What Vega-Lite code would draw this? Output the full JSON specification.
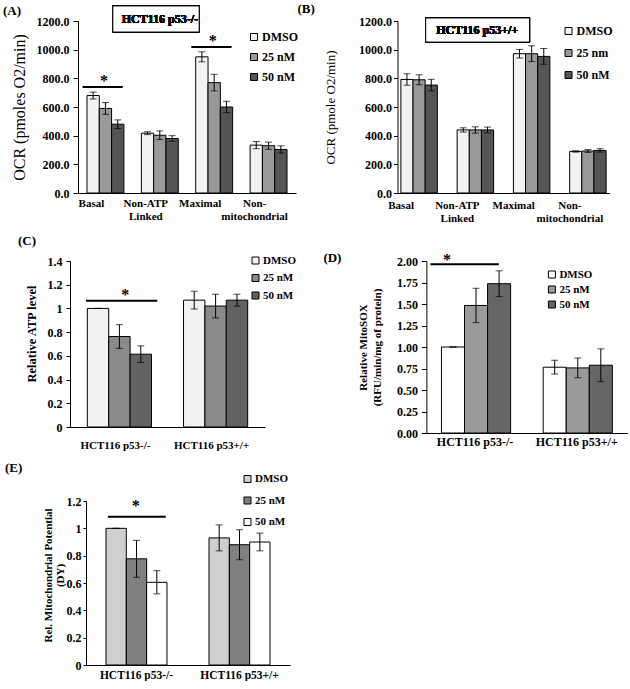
{
  "$schema": "https://vega.github.io/schema/vega-lite/v6.json",
  "padding": {"left": 0, "top": 2, "right": 0, "bottom": 0},
  "spacing": 12,
  "resolve": {"scale": {"x": "independent", "y": "independent", "xOffset": "independent", "fill": "independent"}, "axis": {"x": "independent", "y": "independent"}, "legend": {"fill": "independent"}},
  "vconcat": [
    {
      "spacing": 0, "bounds": "flush",
      "resolve": {"scale": {"x": "independent", "y": "independent", "xOffset": "independent", "fill": "independent"}, "axis": {"x": "independent", "y": "independent"}, "legend": {"fill": "independent"}},
      "hconcat": [
        {"width": 78, "height": 1, "data": {"values": []}, "mark": {"type": "point", "opacity": 0}, "encoding": {}},
        {
          "spacing": 101.5, "bounds": "flush",
          "resolve": {"scale": {"x": "independent", "y": "independent", "xOffset": "independent", "fill": "independent"}, "axis": {"x": "independent", "y": "independent"}, "legend": {"fill": "independent"}},
          "hconcat": [
            {
              "width": 218, "height": 172,
              "title": {"text": "(A)", "frame": "group", "anchor": "start", "dx": -75, "offset": -12.5},
              "data": {"values": [
                {"group": "Basal", "treatment": "DMSO", "value": 680, "err": 24},
                {"group": "Basal", "treatment": "25 nM", "value": 590, "err": 41},
                {"group": "Basal", "treatment": "50 nM", "value": 480, "err": 30},
                {"group": "Non-ATP Linked", "treatment": "DMSO", "value": 417, "err": 10},
                {"group": "Non-ATP Linked", "treatment": "25 nM", "value": 403, "err": 30},
                {"group": "Non-ATP Linked", "treatment": "50 nM", "value": 380, "err": 20},
                {"group": "Maximal", "treatment": "DMSO", "value": 950, "err": 35},
                {"group": "Maximal", "treatment": "25 nM", "value": 770, "err": 58},
                {"group": "Maximal", "treatment": "50 nM", "value": 600, "err": 40},
                {"group": "Non-mitochondrial", "treatment": "DMSO", "value": 334, "err": 25},
                {"group": "Non-mitochondrial", "treatment": "25 nM", "value": 330, "err": 25},
                {"group": "Non-mitochondrial", "treatment": "50 nM", "value": 304, "err": 25}
              ]},
              "encoding": {
                "x": {"field": "group", "type": "nominal", "title": null,
                  "scale": {"domain": ["Basal", "Non-ATP Linked", "Maximal", "Non-mitochondrial"], "paddingInner": 0.321, "paddingOuter": 0.165},
                  "axis": {"labelExpr": "datum.label == 'Non-ATP Linked' ? ['Non-ATP', 'Linked'] : datum.label == 'Non-mitochondrial' ? ['Non-', 'mitochondrial'] : datum.label", "labelOffset": -14, "labelPadding": 4, "labelLineHeight": 13, "labelFontSize": 11}},
                "y": {"field": "value", "type": "quantitative", "title": "OCR (pmoles O2/min)",
                  "scale": {"domain": [0, 1200], "nice": false},
                  "axis": {"values": [0, 200, 400, 600, 800, 1000, 1200], "format": ".1f", "labelOverlap": false, "titleFontSize": 16, "titleFontWeight": "normal", "titleX": -59, "titleBaseline": "middle", "labelPadding": 4}}
              },
              "layer": [
                {
                  "mark": {"type": "bar", "stroke": "black", "strokeWidth": 1},
                  "encoding": {
                    "xOffset": {"field": "treatment", "type": "nominal", "scale": {"domain": ["DMSO", "25 nM", "50 nM"], "paddingInner": 0, "paddingOuter": 0}},
                    "fill": {"field": "treatment", "type": "nominal",
                      "scale": {"domain": ["DMSO", "25 nM", "50 nM"], "range": ["#f2f2f2", "#999999", "#555555"]},
                      "legend": {"title": null, "orient": "none", "legendX": 170, "legendY": 10, "rowPadding": 8, "labelFontSize": 12}}
                  }
                },
                {
                  "mark": {"type": "errorbar", "color": "black", "thickness": 1, "ticks": {"size": 7}},
                  "encoding": {
                    "xOffset": {"field": "treatment", "type": "nominal"},
                    "yError": {"field": "err"}
                  }
                },
                {
                  "data": {"values": [{"group": "Basal", "value": 740}, {"group": "Maximal", "value": 1019}]},
                  "layer": [
                    {"mark": {"type": "rule", "strokeWidth": 2, "color": "black"},
                     "encoding": {
                       "x": {"field": "group", "type": "nominal", "bandPosition": -0.12, "title": null,
                         "scale": {"domain": ["Basal", "Non-ATP Linked", "Maximal", "Non-mitochondrial"], "paddingInner": 0.321, "paddingOuter": 0.165},
                         "axis": {"labelExpr": "datum.label == 'Non-ATP Linked' ? ['Non-ATP', 'Linked'] : datum.label == 'Non-mitochondrial' ? ['Non-', 'mitochondrial'] : datum.label", "labelOffset": -14, "labelPadding": 4, "labelLineHeight": 13, "labelFontSize": 11}},
                       "x2": {"field": "group", "bandPosition": 0.97}}},
                    {"mark": {"type": "text", "text": "*", "fontSize": 16, "fontWeight": "bold", "fill": "black", "baseline": "alphabetic", "dy": -1},
                     "encoding": {
                       "x": {"field": "group", "type": "nominal", "bandPosition": 0.46, "title": null,
                         "scale": {"domain": ["Basal", "Non-ATP Linked", "Maximal", "Non-mitochondrial"], "paddingInner": 0.321, "paddingOuter": 0.165},
                         "axis": {"labelExpr": "datum.label == 'Non-ATP Linked' ? ['Non-ATP', 'Linked'] : datum.label == 'Non-mitochondrial' ? ['Non-', 'mitochondrial'] : datum.label", "labelOffset": -14, "labelPadding": 4, "labelLineHeight": 13, "labelFontSize": 11}}}}
                  ]
                },
                {
                  "mark": {"type": "rect", "fill": "white", "stroke": "black", "strokeWidth": 1, "x2Offset": -15},
                  "encoding": {
                    "x": {"datum": "Basal", "type": "nominal", "bandPosition": 0.7, "title": null,
                      "scale": {"domain": ["Basal", "Non-ATP Linked", "Maximal", "Non-mitochondrial"], "paddingInner": 0.321, "paddingOuter": 0.165},
                      "axis": {"labelExpr": "datum.label == 'Non-ATP Linked' ? ['Non-ATP', 'Linked'] : datum.label == 'Non-mitochondrial' ? ['Non-', 'mitochondrial'] : datum.label", "labelOffset": -14, "labelPadding": 4, "labelLineHeight": 13, "labelFontSize": 11}},
                    "x2": {"datum": "Maximal", "bandPosition": 0.5},
                    "y": {"datum": 1305, "type": "quantitative", "title": "OCR (pmoles O2/min)",
                      "scale": {"domain": [0, 1200], "nice": false},
                      "axis": {"values": [0, 200, 400, 600, 800, 1000, 1200], "format": ".1f", "labelOverlap": false, "titleFontSize": 16, "titleFontWeight": "normal", "titleX": -59, "titleBaseline": "middle", "labelPadding": 4}},
                    "y2": {"datum": 1123}
                  }
                },
                {
                  "mark": {"type": "text", "text": "HCT116 p53-/-", "fontSize": 12, "fontWeight": "bold", "fill": "black"},
                  "encoding": {
                    "x": {"datum": "Non-ATP Linked", "type": "nominal", "bandPosition": 0.5, "title": null,
                      "scale": {"domain": ["Basal", "Non-ATP Linked", "Maximal", "Non-mitochondrial"], "paddingInner": 0.321, "paddingOuter": 0.165},
                      "axis": {"labelExpr": "datum.label == 'Non-ATP Linked' ? ['Non-ATP', 'Linked'] : datum.label == 'Non-mitochondrial' ? ['Non-', 'mitochondrial'] : datum.label", "labelOffset": -14, "labelPadding": 4, "labelLineHeight": 13, "labelFontSize": 11}},
                    "y": {"datum": 1214, "type": "quantitative", "title": "OCR (pmoles O2/min)",
                      "scale": {"domain": [0, 1200], "nice": false},
                      "axis": {"values": [0, 200, 400, 600, 800, 1000, 1200], "format": ".1f", "labelOverlap": false, "titleFontSize": 16, "titleFontWeight": "normal", "titleX": -59, "titleBaseline": "middle", "labelPadding": 4}}
                  }
                }
              ]
            },
            {
              "width": 212, "height": 172,
              "title": {"text": "(B)", "frame": "group", "anchor": "start", "dx": -100, "offset": -0.5},
              "data": {"values": [
                {"group": "Basal", "treatment": "DMSO", "value": 792, "err": 40},
                {"group": "Basal", "treatment": "25 nM", "value": 790, "err": 35},
                {"group": "Basal", "treatment": "50 nM", "value": 753, "err": 40},
                {"group": "Non-ATP Linked", "treatment": "DMSO", "value": 440, "err": 15},
                {"group": "Non-ATP Linked", "treatment": "25 nM", "value": 440, "err": 22},
                {"group": "Non-ATP Linked", "treatment": "50 nM", "value": 440, "err": 20},
                {"group": "Maximal", "treatment": "DMSO", "value": 972, "err": 30},
                {"group": "Maximal", "treatment": "25 nM", "value": 972, "err": 55},
                {"group": "Maximal", "treatment": "50 nM", "value": 953, "err": 55},
                {"group": "Non-mitochondrial", "treatment": "DMSO", "value": 290, "err": 5},
                {"group": "Non-mitochondrial", "treatment": "25 nM", "value": 293, "err": 10},
                {"group": "Non-mitochondrial", "treatment": "50 nM", "value": 297, "err": 12}
              ]},
              "encoding": {
                "x": {"field": "group", "type": "nominal", "title": null,
                  "scale": {"domain": ["Basal", "Non-ATP Linked", "Maximal", "Non-mitochondrial"], "paddingInner": 0.352, "paddingOuter": 0.06},
                  "axis": {"labelExpr": "datum.label == 'Non-ATP Linked' ? ['Non-ATP', 'Linked'] : datum.label == 'Non-mitochondrial' ? ['Non-', 'mitochondrial'] : datum.label", "labelOffset": -18, "labelPadding": 6, "labelLineHeight": 13, "labelFontSize": 11}},
                "y": {"field": "value", "type": "quantitative", "title": "OCR (pmole O2/min)",
                  "scale": {"domain": [0, 1200], "nice": false},
                  "axis": {"values": [0, 200, 400, 600, 800, 1000, 1200], "format": ".1f", "labelOverlap": false, "titleFontSize": 13, "titleFontWeight": "normal", "titleX": -67, "titleBaseline": "middle", "tickSize": 4, "labelPadding": 2}}
              },
              "layer": [
                {
                  "mark": {"type": "bar", "stroke": "black", "strokeWidth": 1},
                  "encoding": {
                    "xOffset": {"field": "treatment", "type": "nominal", "scale": {"domain": ["DMSO", "25 nM", "50 nM"], "paddingInner": 0, "paddingOuter": 0}},
                    "fill": {"field": "treatment", "type": "nominal",
                      "scale": {"domain": ["DMSO", "25 nM", "50 nM"], "range": ["#f2f2f2", "#999999", "#555555"]},
                      "legend": {"title": null, "orient": "none", "legendX": 165, "legendY": 4, "rowPadding": 10, "labelFontSize": 12, "labelExpr": "datum.label == '25 nM' ? '25 nm' : datum.label"}}
                  }
                },
                {
                  "mark": {"type": "errorbar", "color": "black", "thickness": 1, "ticks": {"size": 7}},
                  "encoding": {
                    "xOffset": {"field": "treatment", "type": "nominal"},
                    "yError": {"field": "err"}
                  }
                },
                {
                  "mark": {"type": "rect", "fill": "white", "stroke": "black", "strokeWidth": 1, "x2Offset": -5},
                  "encoding": {
                    "x": {"datum": "Basal", "type": "nominal", "bandPosition": 0.68, "title": null,
                      "scale": {"domain": ["Basal", "Non-ATP Linked", "Maximal", "Non-mitochondrial"], "paddingInner": 0.352, "paddingOuter": 0.06},
                      "axis": {"labelExpr": "datum.label == 'Non-ATP Linked' ? ['Non-ATP', 'Linked'] : datum.label == 'Non-mitochondrial' ? ['Non-', 'mitochondrial'] : datum.label", "labelOffset": -18, "labelPadding": 6, "labelLineHeight": 13, "labelFontSize": 11}},
                    "x2": {"datum": "Maximal", "bandPosition": 0.58},
                    "y": {"datum": 1221, "type": "quantitative", "title": "OCR (pmole O2/min)",
                      "scale": {"domain": [0, 1200], "nice": false},
                      "axis": {"values": [0, 200, 400, 600, 800, 1000, 1200], "format": ".1f", "labelOverlap": false, "titleFontSize": 13, "titleFontWeight": "normal", "titleX": -67, "titleBaseline": "middle", "tickSize": 4, "labelPadding": 2}},
                    "y2": {"datum": 1053}
                  }
                },
                {
                  "mark": {"type": "text", "text": "HCT116 p53+/+", "fontSize": 12, "fontWeight": "bold", "fill": "black"},
                  "encoding": {
                    "x": {"datum": "Non-ATP Linked", "type": "nominal", "bandPosition": 0.55, "title": null,
                      "scale": {"domain": ["Basal", "Non-ATP Linked", "Maximal", "Non-mitochondrial"], "paddingInner": 0.352, "paddingOuter": 0.06},
                      "axis": {"labelExpr": "datum.label == 'Non-ATP Linked' ? ['Non-ATP', 'Linked'] : datum.label == 'Non-mitochondrial' ? ['Non-', 'mitochondrial'] : datum.label", "labelOffset": -18, "labelPadding": 6, "labelLineHeight": 13, "labelFontSize": 11}},
                    "y": {"datum": 1137, "type": "quantitative", "title": "OCR (pmole O2/min)",
                      "scale": {"domain": [0, 1200], "nice": false},
                      "axis": {"values": [0, 200, 400, 600, 800, 1000, 1200], "format": ".1f", "labelOverlap": false, "titleFontSize": 13, "titleFontWeight": "normal", "titleX": -67, "titleBaseline": "middle", "tickSize": 4, "labelPadding": 2}}
                  }
                }
              ]
            }
          ]
        }
      ]
    },
    {
      "spacing": 0, "bounds": "flush",
      "resolve": {"scale": {"x": "independent", "y": "independent", "xOffset": "independent", "fill": "independent"}, "axis": {"x": "independent", "y": "independent"}, "legend": {"fill": "independent"}},
      "hconcat": [
        {"width": 70, "height": 1, "data": {"values": []}, "mark": {"type": "point", "opacity": 0}, "encoding": {}},
        {
          "spacing": 161.4, "bounds": "flush",
          "resolve": {"scale": {"x": "independent", "y": "independent", "xOffset": "independent", "fill": "independent"}, "axis": {"x": "independent", "y": "independent"}, "legend": {"fill": "independent"}},
          "hconcat": [
            {
              "width": 195, "height": 166,
              "title": {"text": "(C)", "frame": "group", "anchor": "start", "dx": -52, "offset": 7},
              "data": {"values": [
                {"group": "HCT116 p53-/-", "treatment": "DMSO", "value": 1.0, "err": 0},
                {"group": "HCT116 p53-/-", "treatment": "25 nM", "value": 0.763, "err": 0.1},
                {"group": "HCT116 p53-/-", "treatment": "50 nM", "value": 0.614, "err": 0.07},
                {"group": "HCT116 p53+/+", "treatment": "DMSO", "value": 1.07, "err": 0.075},
                {"group": "HCT116 p53+/+", "treatment": "25 nM", "value": 1.02, "err": 0.1},
                {"group": "HCT116 p53+/+", "treatment": "50 nM", "value": 1.07, "err": 0.05}
              ]},
              "encoding": {
                "x": {"field": "group", "type": "nominal", "title": null,
                  "scale": {"domain": ["HCT116 p53-/-", "HCT116 p53+/+"], "paddingInner": 0.333, "paddingOuter": 0.18},
                  "axis": {"labelOffset": -4, "labelPadding": 12, "labelFontSize": 11}},
                "y": {"field": "value", "type": "quantitative", "title": "Relative ATP level",
                  "scale": {"domain": [0, 1.4], "nice": false},
                  "axis": {"values": [0, 0.2, 0.4, 0.6, 0.8, 1, 1.2, 1.4], "format": ".1~f", "labelOverlap": false, "titleFontSize": 12.5, "titleFontWeight": "bold", "titleX": -39, "titleY": 72.5, "titleBaseline": "middle", "titlePadding": 19, "tickSize": 4, "labelPadding": 4}}
              },
              "layer": [
                {
                  "mark": {"type": "bar", "stroke": "black", "strokeWidth": 1},
                  "encoding": {
                    "xOffset": {"field": "treatment", "type": "nominal", "scale": {"domain": ["DMSO", "25 nM", "50 nM"], "paddingInner": 0, "paddingOuter": 0}},
                    "fill": {"field": "treatment", "type": "nominal",
                      "scale": {"domain": ["DMSO", "25 nM", "50 nM"], "range": ["#f2f2f2", "#8a8a8a", "#626262"]},
                      "legend": {"title": null, "orient": "none", "legendX": 180, "legendY": -6, "rowPadding": 5.5, "labelFontSize": 11}}
                  }
                },
                {
                  "mark": {"type": "errorbar", "color": "black", "thickness": 1, "ticks": {"size": 7}},
                  "encoding": {
                    "xOffset": {"field": "treatment", "type": "nominal"},
                    "yError": {"field": "err"}
                  }
                },
                {
                  "data": {"values": [{"group": "HCT116 p53-/-", "value": 1.064}]},
                  "layer": [
                    {"mark": {"type": "rule", "strokeWidth": 2, "color": "black"},
                     "encoding": {
                       "x": {"field": "group", "type": "nominal", "bandPosition": -0.02, "title": null,
                         "scale": {"domain": ["HCT116 p53-/-", "HCT116 p53+/+"], "paddingInner": 0.333, "paddingOuter": 0.18},
                         "axis": {"labelOffset": -4, "labelPadding": 12, "labelFontSize": 11}},
                       "x2": {"field": "group", "bandPosition": 1.09}}},
                    {"mark": {"type": "text", "text": "*", "fontSize": 16, "fontWeight": "bold", "fill": "black", "baseline": "alphabetic", "dy": -1},
                     "encoding": {
                       "x": {"field": "group", "type": "nominal", "bandPosition": 0.59, "title": null,
                         "scale": {"domain": ["HCT116 p53-/-", "HCT116 p53+/+"], "paddingInner": 0.333, "paddingOuter": 0.18},
                         "axis": {"labelOffset": -4, "labelPadding": 12, "labelFontSize": 11}}}}
                  ]
                }
              ]
            },
            {
              "width": 201, "height": 172,
              "title": {"text": "(D)", "frame": "group", "anchor": "start", "dx": -103, "offset": -12.5},
              "data": {"values": [
                {"group": "HCT116 p53-/-", "treatment": "DMSO", "value": 1.0, "err": 0},
                {"group": "HCT116 p53-/-", "treatment": "25 nM", "value": 1.483, "err": 0.2},
                {"group": "HCT116 p53-/-", "treatment": "50 nM", "value": 1.736, "err": 0.15},
                {"group": "HCT116 p53+/+", "treatment": "DMSO", "value": 0.765, "err": 0.08},
                {"group": "HCT116 p53+/+", "treatment": "25 nM", "value": 0.757, "err": 0.115},
                {"group": "HCT116 p53+/+", "treatment": "50 nM", "value": 0.788, "err": 0.19}
              ]},
              "encoding": {
                "x": {"field": "group", "type": "nominal", "title": null,
                  "scale": {"domain": ["HCT116 p53-/-", "HCT116 p53+/+"], "paddingInner": 0.32, "paddingOuter": 0.148},
                  "axis": {"labelOffset": -1, "labelPadding": 3, "labelFontSize": 12}},
                "y": {"field": "value", "type": "quantitative", "title": ["Relative MitoSOX", "(RFU/min/mg of protein)"],
                  "scale": {"domain": [0, 2], "nice": false},
                  "axis": {"values": [0, 0.25, 0.5, 0.75, 1, 1.25, 1.5, 1.75, 2], "format": ".2f", "labelOverlap": false, "titleFontSize": 11, "titleFontWeight": "bold", "titleX": -63, "titleBaseline": "middle", "titleLineHeight": 14, "titlePadding": 28, "labelPadding": 4}}
              },
              "layer": [
                {
                  "mark": {"type": "bar", "stroke": "black", "strokeWidth": 1},
                  "encoding": {
                    "xOffset": {"field": "treatment", "type": "nominal", "scale": {"domain": ["DMSO", "25 nM", "50 nM"], "paddingInner": 0, "paddingOuter": 0}},
                    "fill": {"field": "treatment", "type": "nominal",
                      "scale": {"domain": ["DMSO", "25 nM", "50 nM"], "range": ["#ffffff", "#9a9a9a", "#666666"]},
                      "legend": {"title": null, "orient": "none", "legendX": 120, "legendY": 8, "rowPadding": 3, "labelFontSize": 11}}
                  }
                },
                {
                  "mark": {"type": "errorbar", "color": "black", "thickness": 1, "ticks": {"size": 7}},
                  "encoding": {
                    "xOffset": {"field": "treatment", "type": "nominal"},
                    "yError": {"field": "err"}
                  }
                },
                {
                  "data": {"values": [{"group": "HCT116 p53-/-", "value": 1.963}]},
                  "layer": [
                    {"mark": {"type": "rule", "strokeWidth": 2, "color": "black"},
                     "encoding": {
                       "x": {"field": "group", "type": "nominal", "bandPosition": -0.16, "title": null,
                         "scale": {"domain": ["HCT116 p53-/-", "HCT116 p53+/+"], "paddingInner": 0.32, "paddingOuter": 0.148},
                         "axis": {"labelOffset": -1, "labelPadding": 3, "labelFontSize": 12}},
                       "x2": {"field": "group", "bandPosition": 0.83}}},
                    {"mark": {"type": "text", "text": "*", "fontSize": 16, "fontWeight": "bold", "fill": "black", "baseline": "alphabetic", "dy": 1},
                     "encoding": {
                       "x": {"field": "group", "type": "nominal", "bandPosition": 0.08, "title": null,
                         "scale": {"domain": ["HCT116 p53-/-", "HCT116 p53+/+"], "paddingInner": 0.32, "paddingOuter": 0.148},
                         "axis": {"labelOffset": -1, "labelPadding": 3, "labelFontSize": 12}}}}
                  ]
                }
              ]
            }
          ]
        }
      ]
    },
    {
      "spacing": 0, "bounds": "flush",
      "resolve": {"scale": {"x": "independent", "y": "independent", "xOffset": "independent", "fill": "independent"}, "axis": {"x": "independent", "y": "independent"}, "legend": {"fill": "independent"}},
      "hconcat": [
        {"width": 86, "height": 1, "data": {"values": []}, "mark": {"type": "point", "opacity": 0}, "encoding": {}},
        {
          "width": 204, "height": 164,
          "title": {"text": "(E)", "frame": "group", "anchor": "start", "dx": -81, "offset": -1.8},
          "data": {"values": [
            {"group": "HCT116 p53-/-", "treatment": "DMSO", "value": 1.0, "err": 0},
            {"group": "HCT116 p53-/-", "treatment": "25 nM", "value": 0.777, "err": 0.135},
            {"group": "HCT116 p53-/-", "treatment": "50 nM", "value": 0.605, "err": 0.085},
            {"group": "HCT116 p53+/+", "treatment": "DMSO", "value": 0.93, "err": 0.095},
            {"group": "HCT116 p53+/+", "treatment": "25 nM", "value": 0.88, "err": 0.11},
            {"group": "HCT116 p53+/+", "treatment": "50 nM", "value": 0.9, "err": 0.065}
          ]},
          "encoding": {
            "x": {"field": "group", "type": "nominal", "title": null,
              "scale": {"domain": ["HCT116 p53-/-", "HCT116 p53+/+"], "paddingInner": 0.408, "paddingOuter": 0.194},
              "axis": {"labelOffset": 0, "labelPadding": 4, "labelFontSize": 11.5}},
            "y": {"field": "value", "type": "quantitative", "title": ["Rel. Mitochondrial Potential", "(DY)"],
              "scale": {"domain": [0, 1.2], "nice": false},
              "axis": {"values": [0, 0.2, 0.4, 0.6, 0.8, 1, 1.2], "format": ".1~f", "labelOverlap": false, "titleFontSize": 11, "titleFontWeight": "bold", "titleX": -38, "titleY": 74, "titleBaseline": "middle", "titleLineHeight": 12, "titlePadding": 9, "tickSize": 3, "labelPadding": 2}}
          },
          "layer": [
            {
              "mark": {"type": "bar", "stroke": "black", "strokeWidth": 1},
              "encoding": {
                "xOffset": {"field": "treatment", "type": "nominal", "scale": {"domain": ["DMSO", "25 nM", "50 nM"], "paddingInner": 0, "paddingOuter": 0}},
                "fill": {"field": "treatment", "type": "nominal",
                  "scale": {"domain": ["DMSO", "25 nM", "50 nM"], "range": ["#cfcfcf", "#808080", "#ffffff"]},
                  "legend": {"title": null, "orient": "none", "legendX": 156, "legendY": -27.5, "rowPadding": 9.5, "labelFontSize": 11}}
              }
            },
            {
              "mark": {"type": "errorbar", "color": "black", "thickness": 1, "ticks": {"size": 7}},
              "encoding": {
                "xOffset": {"field": "treatment", "type": "nominal"},
                "yError": {"field": "err"}
              }
            },
            {
              "data": {"values": [{"group": "HCT116 p53-/-", "value": 1.085}]},
              "layer": [
                {"mark": {"type": "rule", "strokeWidth": 2, "color": "black"},
                 "encoding": {
                   "x": {"field": "group", "type": "nominal", "bandPosition": 0.03, "title": null,
                     "scale": {"domain": ["HCT116 p53-/-", "HCT116 p53+/+"], "paddingInner": 0.408, "paddingOuter": 0.194},
                     "axis": {"labelOffset": 0, "labelPadding": 4, "labelFontSize": 11.5}},
                   "x2": {"field": "group", "bandPosition": 0.98}}},
                {"mark": {"type": "text", "text": "*", "fontSize": 16, "fontWeight": "bold", "fill": "black", "baseline": "alphabetic", "dy": -6},
                 "encoding": {
                   "x": {"field": "group", "type": "nominal", "bandPosition": 0.49, "title": null,
                     "scale": {"domain": ["HCT116 p53-/-", "HCT116 p53+/+"], "paddingInner": 0.408, "paddingOuter": 0.194},
                     "axis": {"labelOffset": 0, "labelPadding": 4, "labelFontSize": 11.5}}}}
              ]
            }
          ]
        }
      ]
    }
  ],
  "config": {
    "view": {"stroke": null},
    "font": "Liberation Serif",
    "title": {"font": "Liberation Serif", "fontSize": 13, "fontWeight": "bold", "color": "black"},
    "axis": {"domainColor": "black", "tickColor": "black", "labelColor": "black", "titleColor": "black", "labelFont": "Liberation Serif", "titleFont": "Liberation Serif", "labelFontWeight": "bold", "labelFontSize": 12, "grid": false, "tickSize": 5, "domainWidth": 1, "tickWidth": 1, "labelOverlap": false, "labelBound": false, "labelFlush": false},
    "axisX": {"ticks": false, "labelAngle": 0},
    "legend": {"symbolType": "square", "symbolSize": 49, "symbolStrokeColor": "black", "symbolStrokeWidth": 1, "labelFont": "Liberation Serif", "labelFontWeight": "bold", "labelColor": "black", "labelOffset": 2, "padding": 0}
  }
}
